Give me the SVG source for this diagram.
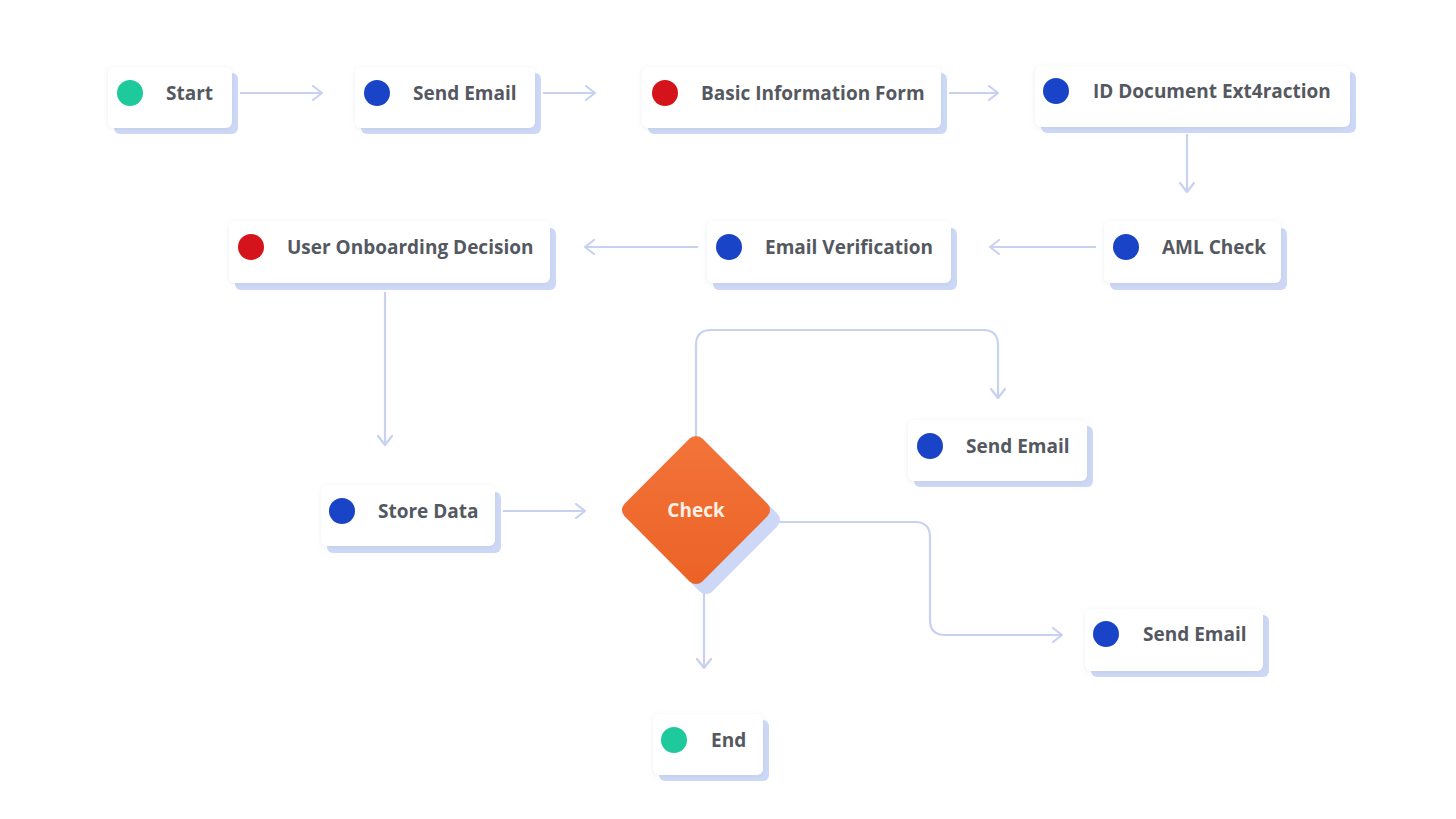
<svg xmlns="http://www.w3.org/2000/svg" width="1456" height="819" viewBox="0 0 1456 819">
<style>
.card{fill:#ffffff;filter:url(#soft)}
.sh{fill:#cdd8f6}
.lbl{font-family:"Open Sans","Liberation Sans",sans-serif;font-weight:700;font-size:19px;fill:#545860}
.conn{fill:none;stroke:#c9d1f1;stroke-width:2.2;marker-end:url(#arr)}
.blue{fill:#1a44c8}
.red{fill:#d4141a}
.green{fill:#1ec99c}
</style>
<defs>
<filter id="soft" x="-20%" y="-40%" width="140%" height="180%">
<feDropShadow dx="0" dy="1" stdDeviation="2.5" flood-color="#9aa0b0" flood-opacity="0.18"/>
</filter>
<marker id="arr" viewBox="0 0 12 16" refX="11" refY="8" markerWidth="12" markerHeight="16" markerUnits="userSpaceOnUse" orient="auto">
<path d="M2,1 L11,8 L2,15" fill="none" stroke="#c9d1f1" stroke-width="2.2" stroke-linecap="round" stroke-linejoin="round"/>
</marker>
<linearGradient id="og" x1="0" y1="0" x2="1" y2="1">
<stop offset="0" stop-color="#f3743a"/>
<stop offset="1" stop-color="#eb6226"/>
</linearGradient>
</defs>
<rect width="1456" height="819" fill="#ffffff"/>

<g id="connectors">
<path class="conn" d="M240,93 H322"/>
<path class="conn" d="M543,93 H595"/>
<path class="conn" d="M949,93 H998"/>
<path class="conn" d="M1187,134 V192"/>
<path class="conn" d="M1096,247 H990"/>
<path class="conn" d="M698,247 H585"/>
<path class="conn" d="M385,292 V445"/>
<path class="conn" d="M503,511 H585"/>
<path class="conn" d="M696,436 V345 Q696,330 711,330 H983 Q998,330 998,345 V398"/>
<path class="conn" d="M775,522 H915 Q930,522 930,537 V620 Q930,635 945,635 H1062"/>
<path class="conn" d="M704,592 V668"/>
</g>

<g id="n-start">
<rect class="sh" x="114" y="73" width="124" height="61" rx="6"/>
<rect class="card" x="108" y="67" width="124" height="61" rx="6"/>
<circle class="green" cx="130" cy="93" r="13"/>
<text class="lbl" x="166" y="99.5">Start</text>
</g>
<g id="n-send1">
<rect class="sh" x="361" y="73" width="180" height="61" rx="6"/>
<rect class="card" x="355" y="67" width="180" height="61" rx="6"/>
<circle class="blue" cx="377" cy="93" r="13"/>
<text class="lbl" x="413" y="99.5">Send Email</text>
</g>
<g id="n-basic">
<rect class="sh" x="648" y="73" width="299" height="61" rx="6"/>
<rect class="card" x="642" y="67" width="299" height="61" rx="6"/>
<circle class="red" cx="665" cy="93" r="13"/>
<text class="lbl" x="701" y="99.5">Basic Information Form</text>
</g>
<g id="n-id">
<rect class="sh" x="1041" y="72" width="315" height="61" rx="6"/>
<rect class="card" x="1035" y="66" width="315" height="61" rx="6"/>
<circle class="blue" cx="1056" cy="91" r="13"/>
<text class="lbl" x="1093" y="97.5">ID Document Ext4raction</text>
</g>
<g id="n-aml">
<rect class="sh" x="1110" y="228" width="177" height="62" rx="6"/>
<rect class="card" x="1104" y="221" width="177" height="62" rx="6"/>
<circle class="blue" cx="1126" cy="247" r="13"/>
<text class="lbl" x="1162" y="253.5">AML Check</text>
</g>
<g id="n-emailver">
<rect class="sh" x="713" y="228" width="244" height="62" rx="6"/>
<rect class="card" x="707" y="221" width="244" height="62" rx="6"/>
<circle class="blue" cx="729" cy="247" r="13"/>
<text class="lbl" x="765" y="253.5">Email Verification</text>
</g>
<g id="n-uod">
<rect class="sh" x="235" y="228" width="321" height="62" rx="6"/>
<rect class="card" x="229" y="221" width="321" height="62" rx="6"/>
<circle class="red" cx="251" cy="247" r="13"/>
<text class="lbl" x="287" y="253.5">User Onboarding Decision</text>
</g>
<g id="n-store">
<rect class="sh" x="327" y="492" width="174" height="61" rx="6"/>
<rect class="card" x="321" y="485" width="174" height="61" rx="6"/>
<circle class="blue" cx="342" cy="511" r="13"/>
<text class="lbl" x="378" y="517.5">Store Data</text>
</g>
<g id="n-check">
<rect x="646" y="460" width="110" height="110" rx="9" fill="#cdd8f6" transform="translate(5,5) rotate(45 701 515)"/>
<rect x="641" y="455" width="110" height="110" rx="9" fill="url(#og)" transform="rotate(45 696 510)"/>
<text x="696" y="516.5" text-anchor="middle" font-family="'Open Sans','Liberation Sans',sans-serif" font-weight="700" font-size="19" fill="#fdf1e6">Check</text>
</g>
<g id="n-send2">
<rect class="sh" x="914" y="426" width="179" height="61" rx="6"/>
<rect class="card" x="908" y="420" width="179" height="61" rx="6"/>
<circle class="blue" cx="930" cy="446" r="13"/>
<text class="lbl" x="966" y="452.5">Send Email</text>
</g>
<g id="n-send3">
<rect class="sh" x="1091" y="615" width="178" height="62" rx="6"/>
<rect class="card" x="1085" y="609" width="178" height="62" rx="6"/>
<circle class="blue" cx="1106" cy="634" r="13"/>
<text class="lbl" x="1143" y="640.5">Send Email</text>
</g>
<g id="n-end">
<rect class="sh" x="659" y="720" width="110" height="61" rx="6"/>
<rect class="card" x="653" y="714" width="110" height="61" rx="6"/>
<circle class="green" cx="674" cy="740" r="13"/>
<text class="lbl" x="711" y="746.5">End</text>
</g>
</svg>
